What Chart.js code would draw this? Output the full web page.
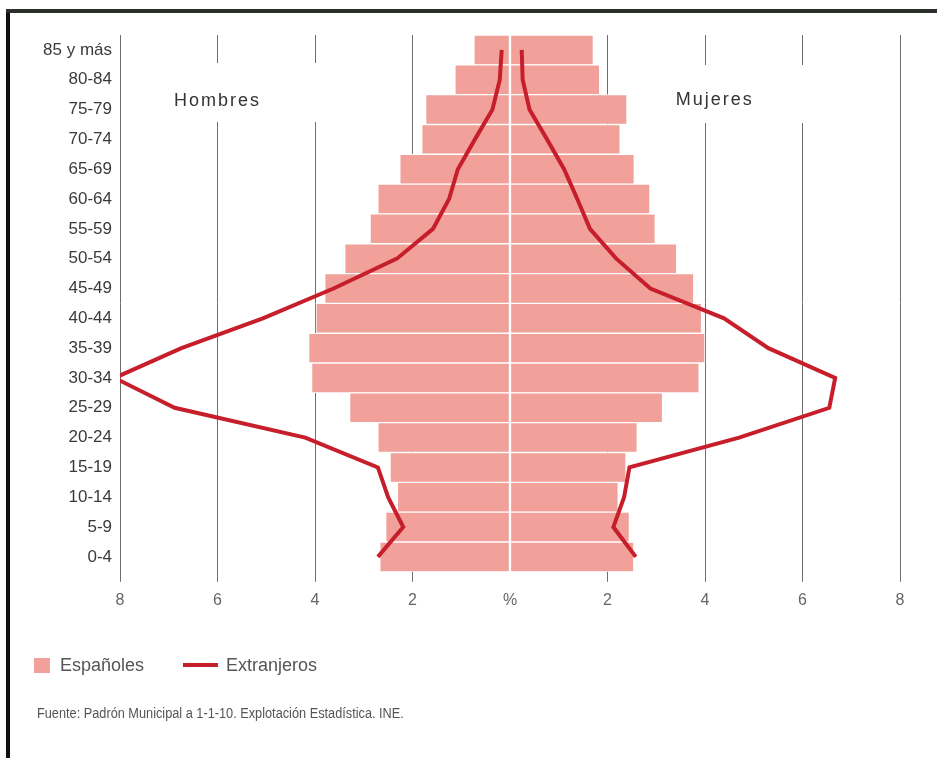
<!DOCTYPE html>
<html>
<head>
<meta charset="utf-8">
<script src="https://cdn.jsdelivr.net/npm/chart.js@4/dist/chart.umd.min.js"></script>
<style>
    body { margin: 0; background: #fff; }
    #wrap { position: relative; width: 937px; height: 758px; overflow: hidden; }
    #wrap canvas { position: absolute; left: 0; top: 0; }
    .frame-left { position: absolute; left: 6px; top: 9px; width: 4px; height: 749px; background: #111; }
    .frame-top { position: absolute; left: 6px; top: 9px; width: 931px; height: 4px; background: #2b302b; }
    .legend { position: absolute; top: 654px; left: 34px; font-family: 'Liberation Sans', Arial, sans-serif; font-size: 18px; color: #555; line-height: 22px; }
    .legend span { position: absolute; white-space: nowrap; }
    .box { position: absolute; left: 0; top: 4px; width: 16px; height: 15px; background: #f1a19a; }
    .dash { position: absolute; left: 149px; top: 9px; width: 35px; height: 4px; background: #c61f2b; }
    .source { position: absolute; left: 37px; top: 705px; font-family: 'Liberation Sans Narrow', 'Liberation Sans', Arial, sans-serif; font-size: 14px; color: #555; white-space: nowrap; transform: scaleX(0.91); transform-origin: left center; }
</style>
</head>
<body>
<div id="wrap">
    <canvas id="pyramid"></canvas>
    <div class="frame-left"></div>
    <div class="frame-top"></div>
    <div class="legend">
        <div class="box"></div><span style="left:26px">Españoles</span>
        <div class="dash"></div><span style="left:192px">Extranjeros</span>
    </div>
    <div class="source">Fuente: Padrón Municipal a 1-1-10. Explotación Estadística. INE.</div>
</div>
<script>
// Age groups, top to bottom
const ageGroups = ['85 y más', '80-84', '75-79', '70-74', '65-69', '60-64', '55-59', '50-54',
    '45-49', '40-44', '35-39', '30-34', '25-29', '20-24', '15-19', '10-14', '5-9', '0-4'];

// Españoles (%)
const espHombres = [0.74, 1.13, 1.73, 1.81, 2.26, 2.71, 2.87, 3.39, 3.80, 3.98, 4.13, 4.07, 3.29, 2.71, 2.46, 2.31, 2.55, 2.67];
const espMujeres = [1.71, 1.84, 2.40, 2.26, 2.55, 2.87, 2.98, 3.42, 3.77, 3.93, 4.00, 3.88, 3.13, 2.61, 2.38, 2.22, 2.45, 2.54];

// Extranjeros (%)
const extHombres = [0.17, 0.21, 0.36, 0.72, 1.07, 1.25, 1.58, 2.32, 3.62, 5.07, 6.74, 8.11, 6.88, 4.20, 2.71, 2.50, 2.19, 2.71];
const extMujeres = [0.24, 0.26, 0.40, 0.76, 1.11, 1.38, 1.64, 2.18, 2.88, 4.39, 5.30, 6.67, 6.55, 4.70, 2.45, 2.34, 2.12, 2.58];

const xTicks = [-8, -6, -4, -2, 0, 2, 4, 6, 8];

const barColor = '#f1a19a';
const lineColor = '#c61f2b';
const gridColor = '#6f6f6f';

// Side labels with a white patch that breaks the grid lines behind them
const sideLabels = {
    id: 'sideLabels',
    beforeDatasetsDraw(chart) {
        const { ctx, scales: { x } } = chart;
        ctx.save();
        ctx.fillStyle = '#fff';
        ctx.fillRect(x.getPixelForValue(-7.3), 63, x.getPixelForValue(-3.2) - x.getPixelForValue(-7.3), 59);
        ctx.fillRect(x.getPixelForValue(3.3), 65, x.getPixelForValue(7.3) - x.getPixelForValue(3.3), 58);
        ctx.fillStyle = '#333';
        ctx.font = '18px "Liberation Sans", Arial, sans-serif';
        ctx.letterSpacing = '2px';
        ctx.textAlign = 'center';
        ctx.textBaseline = 'middle';
        ctx.fillText('Hombres', x.getPixelForValue(-6), 101);
        ctx.fillText('Mujeres', x.getPixelForValue(4.2), 100);
        ctx.restore();
    },
};

new Chart(document.getElementById('pyramid'), {
    type: 'bar',
    data: {
        labels: ageGroups,
        datasets: [
            {
                type: 'line',
                label: 'Extranjeros',
                data: extHombres.map((v) => -v),
                indexAxis: 'y',
                borderColor: lineColor,
                borderWidth: 4,
                pointRadius: 0,
                tension: 0,
                order: 0,
            },
            {
                type: 'line',
                label: 'Extranjeros mujeres',
                data: extMujeres,
                indexAxis: 'y',
                borderColor: lineColor,
                borderWidth: 4,
                pointRadius: 0,
                tension: 0,
                order: 0,
            },
            {
                label: 'Españoles',
                data: espHombres.map((v) => -v),
                backgroundColor: barColor,
                borderColor: '#fff',
                borderWidth: 1,
                borderSkipped: false,
                grouped: false,
                barPercentage: 1,
                categoryPercentage: 1,
                order: 1,
            },
            {
                label: 'Españoles mujeres',
                data: espMujeres,
                backgroundColor: barColor,
                borderColor: '#fff',
                borderWidth: 1,
                borderSkipped: false,
                grouped: false,
                barPercentage: 1,
                categoryPercentage: 1,
                order: 1,
            },
        ],
    },
    options: {
        indexAxis: 'y',
        responsive: true,
        maintainAspectRatio: false,
        animation: false,
        layout: {
            padding: { left: 0, right: 37, top: 35, bottom: 139 },
        },
        scales: {
            x: {
                min: -8,
                max: 8,
                afterBuildTicks: (scale) => {
                    scale.ticks = xTicks.map((v) => ({ value: v }));
                },
                border: { display: false },
                grid: {
                    color: (c) => (c.tick && c.tick.value === 0 ? 'rgba(0,0,0,0)' : gridColor),
                    lineWidth: 1,
                    tickLength: 10,
                },
                ticks: {
                    padding: 9,
                    color: '#666',
                    font: { family: '"Liberation Sans", Arial, sans-serif', size: 16 },
                    callback: (v) => (v === 0 ? '%' : Math.abs(v)),
                },
            },
            y: {
                afterFit: (scale) => {
                    scale.width = 120;
                },
                border: { display: false },
                grid: { display: false, drawTicks: false },
                ticks: {
                    padding: 8,
                    color: '#3a3a3a',
                    font: { family: '"Liberation Sans", Arial, sans-serif', size: 17 },
                },
            },
        },
        plugins: {
            legend: { display: false },
            tooltip: { enabled: false },
        },
    },
    plugins: [sideLabels],
});
</script>
</body>
</html>
